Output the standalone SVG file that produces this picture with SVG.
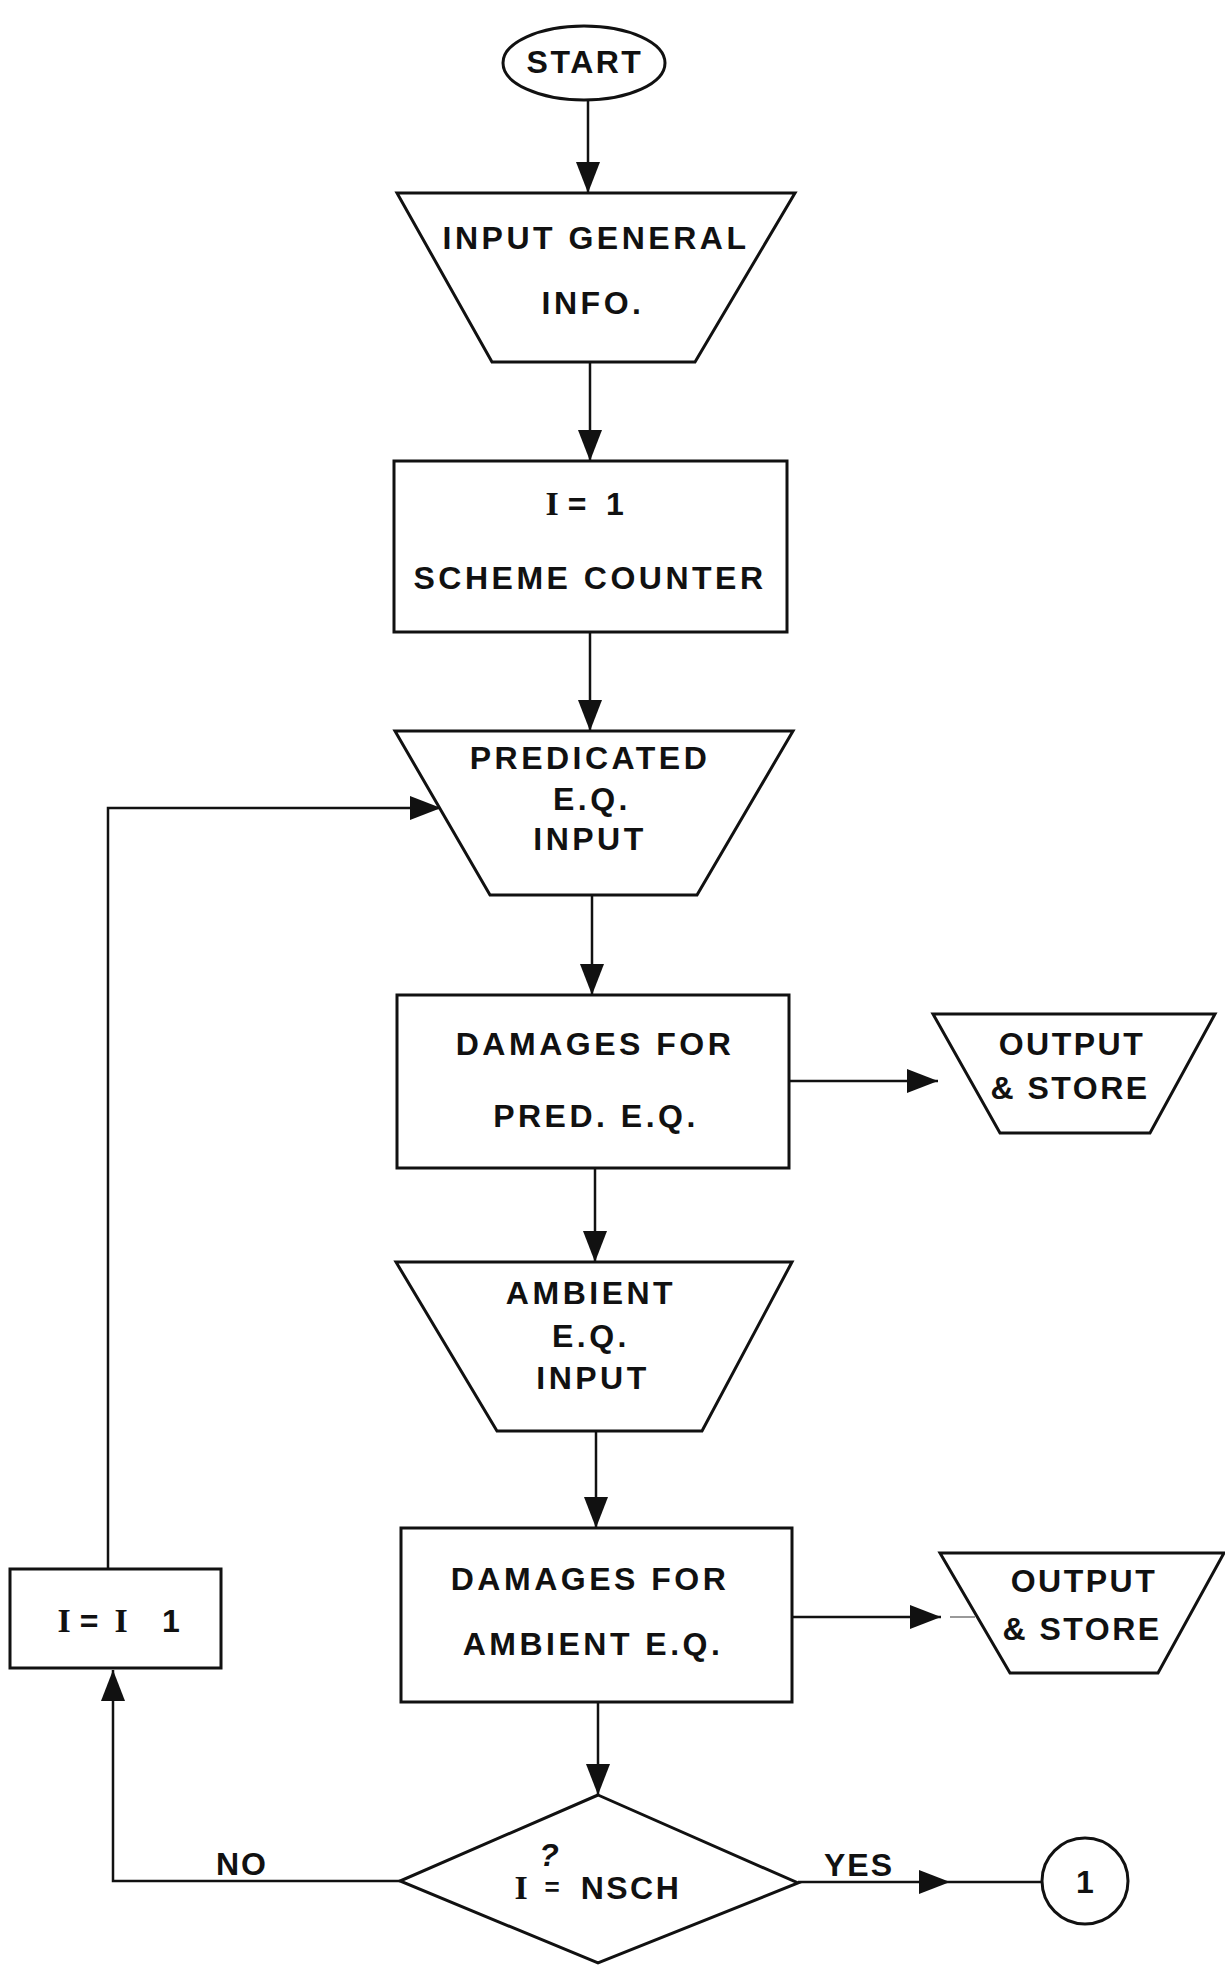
<svg xmlns="http://www.w3.org/2000/svg" width="1225" height="1965" viewBox="0 0 1225 1965">
  <style>
    .shape { fill: #ffffff; stroke: #111111; stroke-width: 3; stroke-linejoin: miter; }
    .conn { fill: none; stroke: #111111; stroke-width: 2.5; }
    .faint { fill: none; stroke: #777777; stroke-width: 1.5; }
    .lbl { font-family: "Liberation Sans", Arial, Helvetica, sans-serif; font-size: 32px; font-weight: bold; letter-spacing: 3.5px; fill: #111111; text-anchor: middle; }
    .tight { letter-spacing: 2.5px; }
    .serif { font-family: "Liberation Serif", "Times New Roman", serif; font-weight: bold; font-size: 34px; letter-spacing: 0; }
    .plain { letter-spacing: 0; }
  </style>
  <defs>
    <marker id="arrow" markerUnits="userSpaceOnUse" markerWidth="32" markerHeight="26" refX="31" refY="13" orient="auto">
      <path d="M0,1 L31,13 L0,25 z" fill="#111111"/>
    </marker>
  </defs>

  <rect width="1225" height="1965" fill="#ffffff"/>

  <!-- connectors -->
  <g id="connectors">
    <path class="conn" d="M588,101 L588,193" marker-end="url(#arrow)"/>
    <path class="conn" d="M590,362 L590,461" marker-end="url(#arrow)"/>
    <path class="conn" d="M590,632 L590,731" marker-end="url(#arrow)"/>
    <path class="conn" d="M592,895 L592,995" marker-end="url(#arrow)"/>
    <path class="conn" d="M789,1081 L938,1081" marker-end="url(#arrow)"/>
    <path class="conn" d="M595,1168 L595,1262" marker-end="url(#arrow)"/>
    <path class="conn" d="M596,1431 L596,1528" marker-end="url(#arrow)"/>
    <path class="conn" d="M792,1617 L941,1617" marker-end="url(#arrow)"/>
    <path class="faint" d="M950,1617 L975,1617"/>
    <path class="conn" d="M598,1702 L598,1795" marker-end="url(#arrow)"/>
    <!-- YES branch to connector 1 -->
    <path class="conn" d="M798,1882 L950,1882" marker-end="url(#arrow)"/>
    <path class="conn" d="M950,1882 L1042,1882"/>
    <!-- NO branch back to the counter -->
    <path class="conn" d="M400,1881 L113,1881 L113,1670" marker-end="url(#arrow)"/>
    <!-- loop back to the predicted E.Q. input -->
    <path class="conn" d="M108,1569 L108,808 L441,808" marker-end="url(#arrow)"/>
    <text class="lbl plain" x="242" y="1875" style="letter-spacing:2px">NO</text>
    <text class="lbl plain" x="859" y="1876" style="letter-spacing:2px">YES</text>
  </g>

  <g id="start">
    <ellipse class="shape" cx="584" cy="63" rx="81" ry="37"/>
    <text class="lbl tight" x="585" y="73">START</text>
  </g>

  <g id="input-general">
    <polygon class="shape" points="397,193 795,193 695,362 492,362"/>
    <text class="lbl" x="596" y="249">INPUT GENERAL</text>
    <text class="lbl" x="593" y="314">INFO.</text>
  </g>

  <g id="scheme-counter">
    <rect class="shape" x="394" y="461" width="393" height="171"/>
    <text class="lbl plain" y="515"><tspan class="serif" x="552">I</tspan><tspan x="577">=</tspan><tspan x="615">1</tspan></text>
    <text class="lbl" x="590" y="589">SCHEME COUNTER</text>
  </g>

  <g id="predicated-input">
    <polygon class="shape" points="395,731 793,731 697,895 490,895"/>
    <text class="lbl" x="590" y="769">PREDICATED</text>
    <text class="lbl" x="592" y="810">E.Q.</text>
    <text class="lbl" x="590" y="850">INPUT</text>
  </g>

  <g id="damages-pred">
    <rect class="shape" x="397" y="995" width="392" height="173"/>
    <text class="lbl" x="595" y="1055">DAMAGES FOR</text>
    <text class="lbl" x="596" y="1127">PRED.  E.Q.</text>
  </g>

  <g id="output-store-1">
    <polygon class="shape" points="933,1014 1215,1014 1150,1133 1000,1133"/>
    <text class="lbl tight" x="1072" y="1055">OUTPUT</text>
    <text class="lbl tight" x="1070" y="1099">&amp; STORE</text>
  </g>

  <g id="ambient-input">
    <polygon class="shape" points="396,1262 792,1262 702,1431 497,1431"/>
    <text class="lbl" x="591" y="1304">AMBIENT</text>
    <text class="lbl" x="591" y="1347">E.Q.</text>
    <text class="lbl" x="593" y="1389">INPUT</text>
  </g>

  <g id="damages-ambient">
    <rect class="shape" x="401" y="1528" width="391" height="174"/>
    <text class="lbl" x="590" y="1590">DAMAGES FOR</text>
    <text class="lbl" x="593" y="1655">AMBIENT E.Q.</text>
  </g>

  <g id="output-store-2">
    <polygon class="shape" points="940,1553 1224,1553 1158,1673 1010,1673"/>
    <text class="lbl tight" x="1084" y="1592">OUTPUT</text>
    <text class="lbl tight" x="1082" y="1640">&amp; STORE</text>
  </g>

  <g id="increment">
    <rect class="shape" x="10" y="1569" width="211" height="99"/>
    <text class="lbl plain" y="1632"><tspan class="serif" x="64">I</tspan><tspan x="89">=</tspan><tspan class="serif" x="121">I</tspan><tspan x="171">1</tspan></text>
  </g>

  <g id="decision">
    <polygon class="shape" points="598,1795 798,1883 598,1963 400,1881"/>
    <text class="lbl plain" x="549" y="1866" font-size="26" font-style="italic">?</text>
    <text class="lbl plain" y="1899"><tspan class="serif" x="521">I</tspan><tspan x="552" y="1896" font-size="26">=</tspan><tspan x="631" y="1899" style="letter-spacing:2.5px">NSCH</tspan></text>
  </g>

  <g id="connector-1">
    <circle class="shape" cx="1085" cy="1881" r="43"/>
    <text class="lbl plain" x="1085" y="1893">1</text>
  </g>
</svg>
